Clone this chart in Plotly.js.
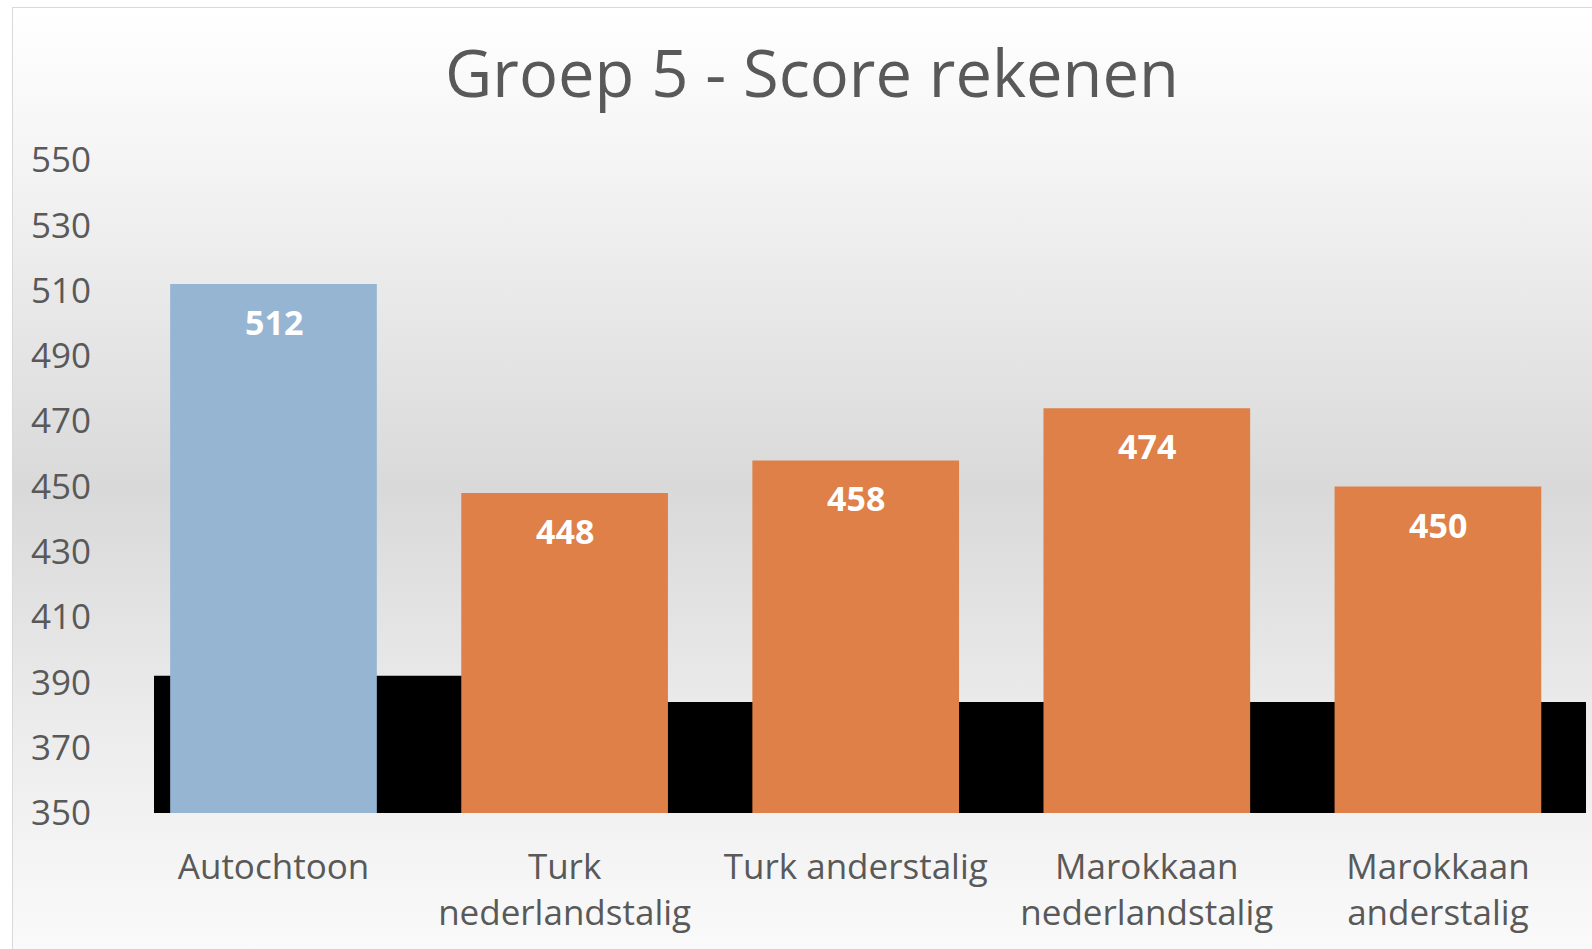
<!DOCTYPE html>
<html>
<head>
<meta charset="utf-8">
<script src="https://cdn.plot.ly/plotly-3.0.1.min.js"></script>
<style>
  html, body { margin: 0; padding: 0; width: 1592px; height: 949px; overflow: hidden; background: #ffffff; }
  #frame {
    position: absolute; left: 12px; top: 7px; width: 1600px; height: 960px;
    border-left: 1px solid #d9d9d9; border-top: 1px solid #d9d9d9;
    background: linear-gradient(to bottom, #ffffff 0%, #f5f5f5 15%, #d9d9d9 50%, #ececec 75%, #fbfbfb 100%);
  }
  #chart { position: absolute; left: 0; top: 0; width: 1592px; height: 949px; }
</style>
</head>
<body>
<div id="frame"></div>
<div id="chart"></div>
<script>
// ---- data ----
const categories = ["Autochtoon", "Turk<br>nederlandstalig", "Turk anderstalig", "Marokkaan<br>nederlandstalig", "Marokkaan<br>anderstalig"];
const scores = [512, 448, 458, 474, 450];
const barColors = ["#95B5D3", "#DE8047", "#DE8047", "#DE8047", "#DE8047"];
const referenceLevel = [392, 384, 384, 384, 384];
const yTicks = [350, 370, 390, 410, 430, 450, 470, 490, 510, 530, 550];

// ---- layout helpers ----
const idx = categories.map((_, i) => i);
const xRange = [-0.4105, 4.5087];

// step area built from the reference levels, spanning the full axis range
const refX = [xRange[0]].concat(idx.slice(1)).concat([xRange[1]]);
const refY = referenceLevel.concat([referenceLevel[referenceLevel.length - 1]]);

const traces = [
  {
    type: "scatter",
    x: refX,
    y: refY,
    mode: "lines",
    line: { shape: "hv", width: 0, color: "#000000" },
    fill: "tozeroy",
    fillcolor: "#000000",
    hoverinfo: "skip",
    showlegend: false,
    zorder: -1
  },
  {
    type: "bar",
    x: idx,
    y: scores,
    base: 0,
    width: 0.71,
    marker: { color: barColors, line: { width: 0 } },
    hoverinfo: "x+y",
    showlegend: false,
    zorder: 1
  }
];

const annotations = scores.map((v, i) => ({
  x: i, y: v, xref: "x", yref: "y",
  text: "<b>" + v + "</b>",
  showarrow: false,
  yanchor: "middle",
  yshift: -38,
  font: { family: "Open Sans", size: 34, color: "#ffffff" }
}));

const layout = {
  width: 1592,
  height: 949,
  margin: { l: 154, r: 6, t: 160, b: 136, pad: 0 },
  paper_bgcolor: "rgba(0,0,0,0)",
  plot_bgcolor: "rgba(0,0,0,0)",
  title: {
    text: "Groep 5 - Score rekenen",
    font: { family: "Open Sans", size: 65, color: "#595959" },
    x: 0.51, xanchor: "center", xref: "container",
    y: 0.922, yanchor: "middle", yref: "container"
  },
  xaxis: {
    range: xRange,
    tickmode: "array",
    tickvals: idx,
    ticktext: categories,
    showgrid: false,
    zeroline: false,
    showline: true,
    linecolor: "#000000",
    linewidth: 2,
    ticks: "",
    ticklabelstandoff: 22,
    tickfont: { family: "Open Sans", size: 35, color: "#595959" },
    fixedrange: true
  },
  yaxis: {
    range: [350, 550],
    tickmode: "array",
    tickvals: yTicks,
    ticktext: yTicks.map(String),
    showgrid: false,
    zeroline: false,
    showline: false,
    ticks: "",
    ticklabelstandoff: 62,
    tickfont: { family: "Open Sans", size: 35, color: "#595959" },
    fixedrange: true
  },
  bargap: 0.29,
  annotations: annotations,
  showlegend: false
};

Plotly.newPlot("chart", traces, layout, { displayModeBar: false, staticPlot: true });
</script>
</body>
</html>
